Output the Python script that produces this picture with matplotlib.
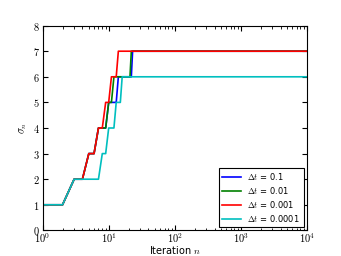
import math
import matplotlib
matplotlib.use("Agg")
import matplotlib.pyplot as plt
from matplotlib.ticker import FuncFormatter, LogLocator

# sigma_n for n = 1..25, then constant up to N_MAX
N_MAX = 10000
SIGMA_01 = [1, 1, 2, 2, 3, 3, 4, 4, 4, 5, 5, 5, 5, 6, 6, 6, 6, 6, 6, 6, 6, 6, 7, 7, 7]
SIGMA_001 = [1, 1, 2, 2, 3, 3, 4, 4, 4, 5, 5, 6, 6, 6, 6, 6, 6, 6, 6, 6, 6, 7, 7, 7, 7]
SIGMA_0001 = [1, 1, 2, 2, 3, 3, 4, 4, 5, 5, 6, 6, 6, 7, 7, 7, 7, 7, 7, 7, 7, 7, 7, 7, 7]
SIGMA_00001 = [1, 1, 2, 2, 2, 2, 2, 3, 3, 4, 4, 4, 5, 5, 5, 6, 6, 6, 6, 6, 6, 6, 6, 6, 6]

SERIES = [
    (r"$\Delta t$ = 0.1", SIGMA_01, (0, 0, 1)),
    (r"$\Delta t$ = 0.01", SIGMA_001, (0, 0.5, 0)),
    (r"$\Delta t$ = 0.001", SIGMA_0001, (1, 0, 0)),
    (r"$\Delta t$ = 0.0001", SIGMA_00001, (0, 0.75, 0.75)),
]

plt.rcParams["mathtext.fontset"] = "cm"
plt.rcParams["font.size"] = 7
plt.rcParams["xtick.direction"] = "in"
plt.rcParams["ytick.direction"] = "in"

fig = plt.figure(figsize=(3.41, 2.56), dpi=100)
ax = fig.add_axes([0.125, 0.1, 0.775, 0.8])

for label, sigma, color in SERIES:
    n = list(range(1, len(sigma) + 1)) + [N_MAX]
    ax.plot(n, sigma + [sigma[-1]], color=color, lw=1.2, label=label)

ax.set_xscale("log")
ax.set_xlim(1, N_MAX)
ax.set_ylim(0, 8)
ax.set_yticks(range(0, 9))
ax.xaxis.set_major_locator(LogLocator(base=10))
ax.xaxis.set_major_formatter(FuncFormatter(lambda v, p: r"$10^{%d}$" % round(math.log10(v))))
ax.yaxis.set_major_formatter(FuncFormatter(lambda v, p: f"${v:g}$"))
ax.tick_params(which="both", top=True, right=True, labelsize=7.5, length=3.5)
ax.tick_params(which="minor", length=1.8)
ax.tick_params(axis="x", pad=1)
ax.tick_params(axis="y", pad=2)
ax.set_xlabel(r"Iteration $n$", fontsize=7, labelpad=-1)
ax.set_ylabel(r"$\sigma_n$", fontsize=7.5, labelpad=3)

leg = ax.legend(loc="lower right", fontsize=6, fancybox=False, framealpha=1,
                edgecolor="black", handlelength=2.2, borderaxespad=0.4,
                labelspacing=0.35)
leg.get_frame().set_linewidth(0.8)

fig.savefig("out.png", dpi=100)
